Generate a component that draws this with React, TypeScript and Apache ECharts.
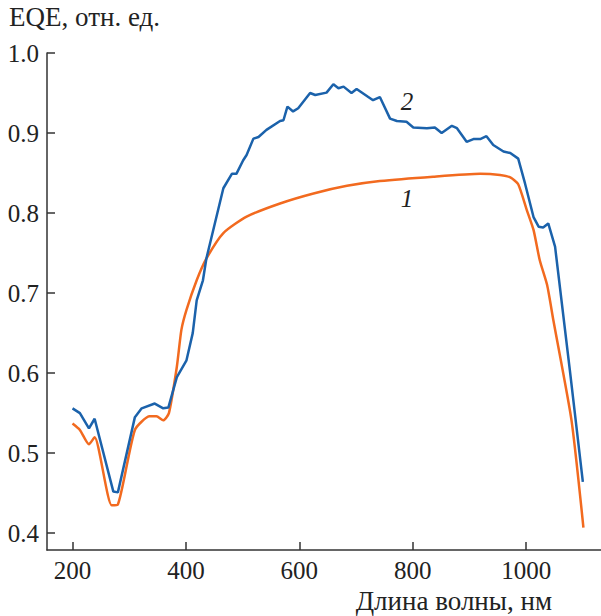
import React, { useEffect, useRef } from "react";
import * as echarts from "echarts";

const blueWl = [200, 213, 229, 239, 272, 280, 310, 322, 345, 360, 369, 384, 401, 412, 419, 430, 436, 466, 481, 489, 501, 507, 519, 528, 542, 566, 572, 579, 589, 598, 619, 628, 648, 660, 669, 678, 692, 701, 730, 742, 760, 772, 789, 801, 825, 839, 851, 869, 878, 895, 907, 919, 930, 942, 960, 972, 986, 998, 1013, 1022, 1030, 1039, 1051, 1077, 1100];
const blueEqe = [0.556, 0.55, 0.531, 0.543, 0.452, 0.451, 0.545, 0.556, 0.562, 0.556, 0.557, 0.595, 0.616, 0.65, 0.691, 0.716, 0.743, 0.831, 0.849, 0.849, 0.866, 0.8725, 0.893, 0.895, 0.904, 0.915, 0.916, 0.933, 0.927, 0.931, 0.95, 0.9475, 0.9505, 0.961, 0.956, 0.958, 0.95, 0.955, 0.941, 0.945, 0.918, 0.915, 0.914, 0.907, 0.906, 0.907, 0.9, 0.909, 0.906, 0.889, 0.8925, 0.8925, 0.896, 0.885, 0.877, 0.875, 0.868, 0.837, 0.795, 0.783, 0.782, 0.787, 0.758, 0.604, 0.464];

const orangeWl = [200, 213, 229, 239, 269, 280, 310, 336, 348, 360, 370, 384, 392, 401, 419, 436, 466, 507, 566, 625, 684, 742, 836, 919, 954, 972, 986, 1001, 1013, 1024, 1037, 1048, 1080, 1101];
const orangeEqe = [0.537, 0.529, 0.511, 0.52, 0.435, 0.436, 0.529, 0.546, 0.546, 0.541, 0.55, 0.608, 0.654, 0.679, 0.716, 0.743, 0.775, 0.7955, 0.812, 0.8245, 0.834, 0.84, 0.8455, 0.849, 0.8475, 0.8445, 0.836, 0.804, 0.779, 0.741, 0.71, 0.666, 0.541, 0.407];

const xTicks = [200, 400, 600, 800, 1000];
const yTicks = [0.4, 0.5, 0.6, 0.7, 0.8, 0.9, 1.0];

const FONT = "Liberation Serif, Times New Roman, DejaVu Serif, serif";
const TXT = "#222";

export default function App() {
  const ref = useRef<HTMLDivElement>(null);
  useEffect(() => {
    if (!ref.current) return;
    const chart = echarts.init(ref.current, undefined, { renderer: "svg" });
    const axisLine = { show: true, lineStyle: { color: "#333", width: 1.5 } };
    chart.setOption({
      animation: false,
      grid: { left: 47, right: 0, top: 53, bottom: 66, containLabel: false },
      xAxis: {
        type: "value",
        min: 155,
        max: 1132,
        axisLine,
        splitLine: { show: false },
        axisTick: { inside: true, length: 8, customValues: xTicks, lineStyle: { color: "#333", width: 1.5 } },
        axisLabel: {
          customValues: xTicks,
          margin: 8,
          fontSize: 25,
          fontFamily: FONT,
          color: TXT,
          formatter: (v: number) => String(Math.round(v)),
        },
      },
      yAxis: {
        type: "value",
        min: 0.379,
        max: 1.0,
        axisLine,
        splitLine: { show: false },
        axisTick: { inside: true, length: 8, customValues: yTicks, lineStyle: { color: "#333", width: 1.5 } },
        axisLabel: {
          customValues: yTicks,
          margin: 8,
          fontSize: 25,
          fontFamily: FONT,
          color: TXT,
          formatter: (v: number) => v.toFixed(1),
        },
      },
      graphic: [
        { type: "text", x: 9, y: 17, style: { text: "EQE, отн. ед.", fontSize: 27, fontFamily: FONT, fill: TXT, align: "left", verticalAlign: "middle" } },
        { type: "text", x: 552, y: 601, style: { text: "Длина волны, нм", fontSize: 27, fontFamily: FONT, fill: TXT, align: "right", verticalAlign: "middle" } },
        { type: "text", x: 407, y: 101, style: { text: "2", fontSize: 25, fontStyle: "italic", fontFamily: FONT, fill: TXT, align: "center", verticalAlign: "middle" } },
        { type: "text", x: 407, y: 198, style: { text: "1", fontSize: 25, fontStyle: "italic", fontFamily: FONT, fill: TXT, align: "center", verticalAlign: "middle" } },
      ],
      series: [
        {
          type: "line",
          name: "1",
          data: orangeWl.map((w, i) => [w, orangeEqe[i]]),
          showSymbol: false,
          smooth: 0.2,
          lineStyle: { color: "#f26a1f", width: 2.5 },
          z: 2,
        },
        {
          type: "line",
          name: "2",
          data: blueWl.map((w, i) => [w, blueEqe[i]]),
          showSymbol: false,
          lineStyle: { color: "#1b62ab", width: 2.5 },
          z: 3,
        },
      ],
    });
    return () => chart.dispose();
  }, []);
  return <div ref={ref} style={{ width: 601, height: 616, position: "absolute", left: 0, top: 0 }} />;
}
